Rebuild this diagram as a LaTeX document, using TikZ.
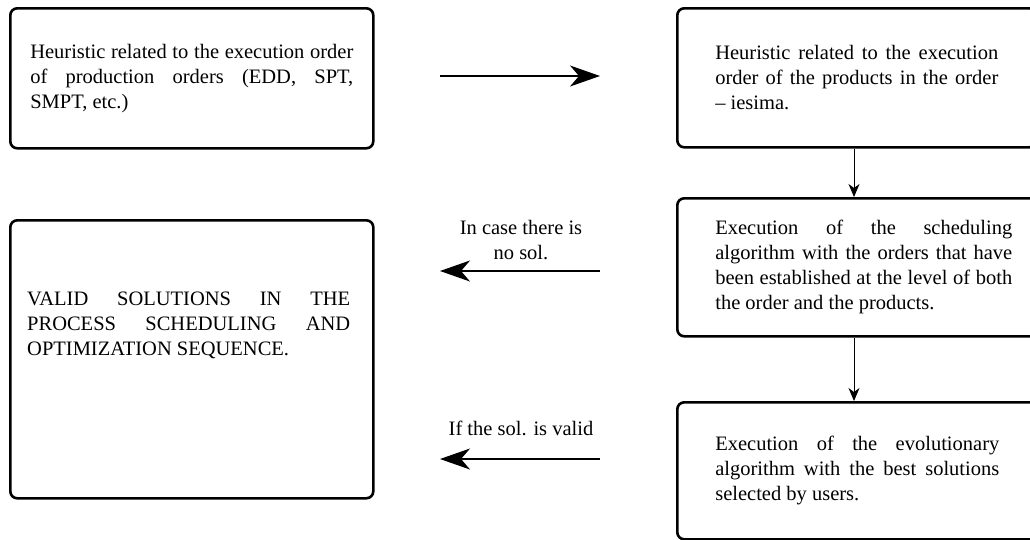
\documentclass[tikz,border=0pt]{standalone}
\usepackage{fontspec}
\setmainfont{Liberation Serif}
\usetikzlibrary{arrows.meta}
\begin{document}
\begin{tikzpicture}[x=1pt,y=-1pt,
  box/.style={draw, line width=2.6pt, rounded corners=7pt, anchor=north west,
    inner sep=0pt, align=justify, font=\fontsize{20.5}{25}\selectfont},
  txt/.style={inner sep=0pt, font=\fontsize{20.5}{25}\selectfont},
  harrow/.style={line width=1.3pt, -{Stealth[length=30pt,width=21pt,inset=9pt]}},
  varrow/.style={line width=0.9pt, -{Stealth[length=13pt,width=11pt,inset=4pt]}}]
\useasboundingbox (0,0) rectangle (1030,539);

\node[box, minimum width=363pt, minimum height=140pt, text width=323pt] (b1) at (9,7)
  {Heuristic related to the execution order\linebreak of production orders (EDD, SPT,\linebreak SMPT, etc.)};
\node[box, minimum width=359pt, minimum height=139pt, text width=283pt] (b2) at (676,7)
  {Heuristic related to the execution\linebreak order of the products in the order\linebreak -- iesima.};
\node[box, minimum width=373pt, minimum height=138pt, text width=297pt] (b3) at (676,197)
  {Execution of the scheduling\linebreak algorithm with the orders that have\linebreak been established at the level of both\linebreak the order and the products.};
\node[box, minimum width=360pt, minimum height=137pt, text width=284pt] (b4) at (676,401)
  {Execution of the evolutionary\linebreak algorithm with the best solutions\linebreak selected by users.};
\node[box, minimum width=363pt, minimum height=278pt] (b5) at (9,219) {};
\node[txt, anchor=north west, text width=323pt, align=justify] (b5t) at (27,292)
  {VALID SOLUTIONS IN THE\linebreak PROCESS SCHEDULING AND\linebreak OPTIMIZATION SEQUENCE.};

\coordinate (a1s) at (440,76);
\coordinate (a1e) at (600,76);
\coordinate (a2s) at (600,271);
\coordinate (a2e) at (440,271);
\coordinate (a3s) at (600,459);
\coordinate (a3e) at (440,459);
\coordinate (vx) at (854,0);

\draw[harrow] (a1s) -- (a1e);
\draw[harrow] (a2s) -- (a2e);
\draw[harrow] (a3s) -- (a3e);

\node[txt, align=center, anchor=base] (l2) at (521,259) {In case there is\\no sol.};
\node[txt, anchor=base] (l3) at (521,435) {If the sol. is valid};

\draw[varrow] (b2.south -| vx) -- (b3.north -| vx);
\draw[varrow] (b3.south -| vx) -- (b4.north -| vx);
\end{tikzpicture}
\end{document}
